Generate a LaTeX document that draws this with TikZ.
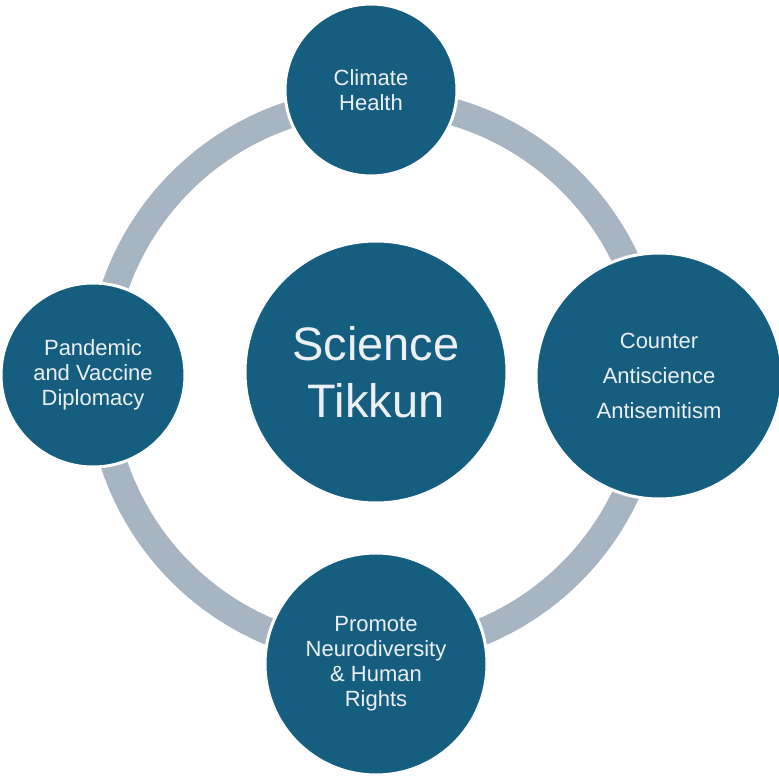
\documentclass[tikz,border=0pt]{standalone}
\usepackage{fontspec}
\setmainfont{Liberation Sans}
\definecolor{teal}{RGB}{22,94,128}
\definecolor{ringc}{RGB}{167,180,194}
\definecolor{txt}{RGB}{236,240,244}
\begin{document}
\begin{tikzpicture}[x=1pt,y=-1pt,
  bubble/.style={circle,fill=teal,draw=white,line width=3pt,text=txt,align=center,inner sep=0pt},
  small/.style={font=\fontsize{22}{25}\selectfont},
]
\useasboundingbox (0,0) rectangle (779,778);
\fill[white] (0,0) rectangle (779,778);
\coordinate (ringc) at (376,377);
\draw[ringc,line width=27pt] (ringc) circle[radius=276];
\node[bubble,minimum size=262pt,font=\fontsize{47}{57}\selectfont] (center) at (376,372) {Science\\Tikkun};
\node[bubble,small,minimum size=172pt] (top) at (371,90) {Climate\\Health};
\node[bubble,minimum size=246pt,font=\fontsize{22}{35}\selectfont] (right) at (659,376) {Counter\\Antiscience\\Antisemitism};
\node[bubble,small,minimum size=184pt] (left) at (93,375) {Pandemic\\and Vaccine\\Diplomacy};
\node[bubble,small,minimum size=222pt] (bottom) at (376,664) {Promote\\Neurodiversity\\\& Human\\Rights};
\end{tikzpicture}
\end{document}
